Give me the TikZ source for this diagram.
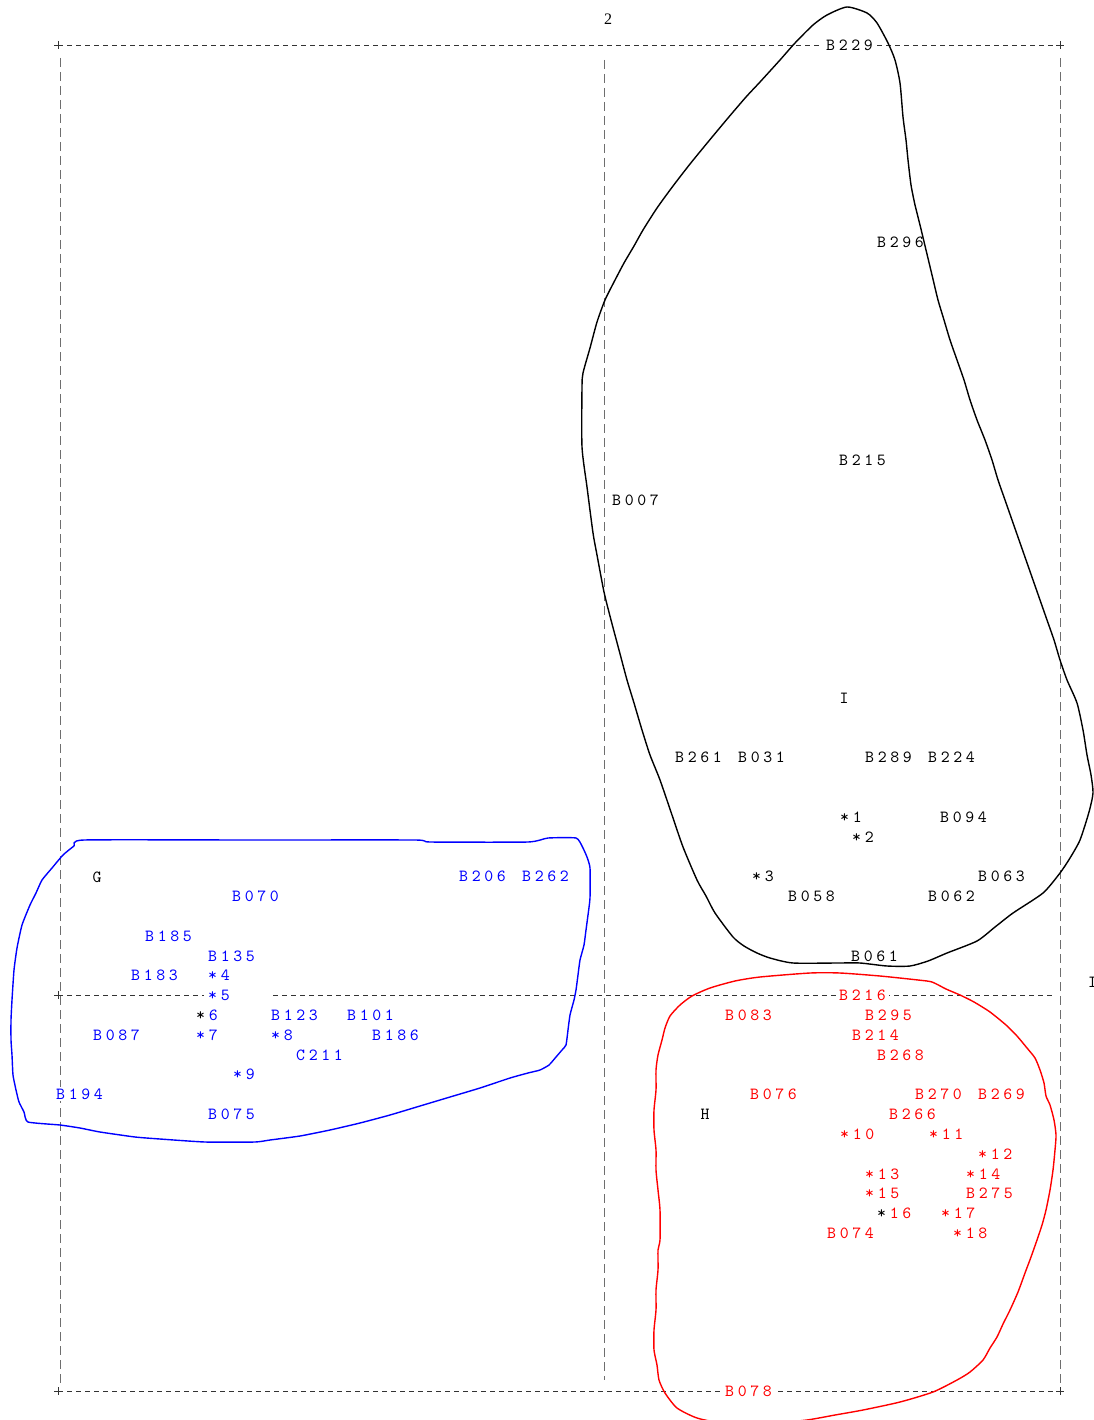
\documentclass[tikz,border=0pt]{standalone}
\usepackage{fontspec}
\newfontfamily\numfam{Liberation Serif}
\newfontfamily\lmmono{lmmono10-regular.otf}[LetterSpace=21.5]
\newcommand\lblfam{\lmmono\fontsize{17}{17}\selectfont}
\newcommand\blk[1]{\textcolor{black}{#1}\kern0.215em}
\definecolor{pblue}{RGB}{0,0,255}
\definecolor{pred}{RGB}{255,0,0}
\definecolor{dashgray}{RGB}{110,110,110}
\tikzset{
  lbl/.style={font=\lblfam, inner sep=0pt, anchor=west},
  onlbl/.style={lbl, fill=white, inner xsep=3pt, inner ysep=1pt},
  hdash/.style={draw=black!80, line width=0.7pt, dash pattern=on 5pt off 4pt},
  vdash/.style={draw=dashgray, line width=0.8pt, dash pattern=on 9pt off 5pt},
  tick/.style={draw=black!80, line width=0.7pt},
  outline/.style={line width=1.4pt, line join=round},
  bl/.style={lbl, text=pblue},
  rd/.style={lbl, text=pred},
  bk/.style={lbl, text=black}
}
\begin{document}
\begin{tikzpicture}[x=1pt,y=-1pt]
\useasboundingbox (0,0) rectangle (1093,1420);
% grid
\draw[vdash] (60,58) -- (60,1385);
\draw[vdash] (604,60) -- (604,1380);
\draw[vdash] (1060,58) -- (1060,1385);
\draw[hdash] (58,45) -- (1060,45);
\draw[hdash] (58,995) -- (204,995);
\draw[hdash] (273,995) -- (1052,995);
\draw[hdash] (58,1391) -- (1060,1391);
\foreach \p in {(58,45),(1060,45),(58,995),(58,1391),(1060,1391)}
  \draw[tick] \p ++(-4,0) -- ++(8,0) \p ++(0,-4) -- ++(0,8);

% black outline
\draw[outline, black] plot[smooth cycle, tension=0.4] coordinates {
(847,7) (867,13) (877,23) (888,43) (895,60) (900,83) (903,117)
(906,140) (908,160) (911,185) (915,205) (920,225) (926,250) (932,275)
(938,300) (944,320) (950,340) (957,360) (964,380) (970,400) (977,420)
(985,440) (992,460) (998,480) (1005,500) (1012,520) (1019,540) (1026,560)
(1033,580) (1040,600) (1047,620) (1054,640) (1060,660) (1067,680)
(1077,703) (1083,730) (1087,755) (1091,775) (1093,793) (1089,812)
(1080,840) (1070,858) (1060,873) (1043,893) (1013,913) (995,927)
(977,941) (947,953) (928,961) (910,966) (887,966) (860,963) (837,963)
(793,963) (770,958) (757,953) (744,946) (733,937) (715,913) (706,896)
(697,880) (683,847) (672,815) (660,780) (650,755) (642,730) (634,703)
(627,680) (619,650) (611,620) (604,592) (597,555) (593,533) (587,487)
(582,447) (582,387) (583,373) (590,348) (597,322) (605,300) (614,282)
(624,263) (634,246) (643,230) (657,208) (673,186) (690,164) (708,142)
(728,118) (746,97) (760,82) (780,60) (795,43) (813,25) (827,15)};

% blue outline
\draw[outline, pblue] plot[smooth cycle, tension=0.3] coordinates {
(84,840) (250,840) (415,840) (430,842) (528,842) (548,838) (576,838)
(582,846) (587,857) (590,868) (590,898) (588,915) (586,930) (584,945)
(580,960) (578,975) (576,990) (574,1000) (570,1015) (568,1030) (566,1045)
(562,1050) (556,1057) (549,1065) (540,1070) (528,1073) (510,1078)
(480,1088) (450,1097) (420,1106) (390,1115) (360,1123) (330,1130)
(300,1136) (270,1140) (255,1142) (205,1142) (160,1139) (135,1137)
(100,1132) (80,1128) (60,1125) (28,1122) (24,1112) (19,1102) (16,1090)
(13,1075) (12,1055) (11,1040) (11,1020) (12,1000) (14,970) (17,948)
(22,925) (30,905) (36,893) (42,880) (52,868) (63,855) (74,846)};

% red outline
\draw[outline, pred] plot[smooth cycle, tension=0.4] coordinates {
(810,973) (760,977) (735,981) (710,988) (692,996) (680,1005) (670,1016)
(665,1028) (662,1040) (658,1055) (656,1070) (656,1090) (654,1110)
(654,1130) (656,1150) (656,1170) (658,1190) (660,1210) (660,1240)
(658,1250) (658,1270) (656,1290) (656,1310) (654,1330) (654,1350)
(657,1365) (659,1380) (665,1393) (677,1408) (697,1418) (720,1422)
(780,1422) (807,1420) (835,1415) (863,1410) (900,1402) (933,1392)
(957,1380) (970,1372) (983,1360) (990,1348) (997,1337) (1003,1324)
(1010,1310) (1018,1292) (1025,1273) (1031,1257) (1037,1240) (1042,1225)
(1046,1210) (1050,1190) (1053,1170) (1055,1150) (1056,1135) (1054,1120)
(1050,1105) (1046,1096) (1044,1083) (1040,1070) (1035,1058) (1027,1048)
(1017,1036) (1006,1025) (990,1012) (974,1002) (960,995) (946,989)
(932,982) (918,980) (880,976) (840,973)};

% title
\node[font=\numfam\fontsize{16}{16}\selectfont, inner sep=0pt] (n2) at (608,19) {2};

% black labels
\node[onlbl] (B229) at (823,45) {B229};
\node[bk] (B296) at (877,242) {B296};
\node[bk] (B215) at (839,460) {B215};
\node[bk] (B007) at (612,500) {B007};
\node[bk, anchor=center] (I) at (844,698) {I};
\node[bk] (B261) at (675,757) {B261};
\node[bk] (B031) at (738,757) {B031};
\node[bk] (B289) at (865,757) {B289};
\node[bk] (B224) at (928,757) {B224};
\node[bk] (s1) at (840,817) {*1};
\node[bk] (B094) at (940,817) {B094};
\node[bk] (s2) at (852,837) {*2};
\node[bk] (s3) at (752,876) {*3};
\node[bk] (B063) at (978,876) {B063};
\node[bk] (B058) at (788,896) {B058};
\node[bk] (B062) at (928,896) {B062};
\node[bk] (B061) at (851,956) {B061};
\node[bk] (edge) at (1088,982) {I};

% blue labels
\node[bk, anchor=center] (G) at (97,877) {G};
\node[bl] (B206) at (459,876) {B206};
\node[bl] (B262) at (522,876) {B262};
\node[bl] (B070) at (232,896) {B070};
\node[bl] (B185) at (145,936) {B185};
\node[bl] (B135) at (208,956) {B135};
\node[bl] (B183) at (131,975) {B183};
\node[bl] (s4) at (208,975) {*4};
\node[bl] (s5) at (208,995) {*5};
\node[bl] (s6) at (196,1015) {\blk{*}6};
\node[bl] (B123) at (271,1015) {B123};
\node[bl] (B101) at (347,1015) {B101};
\node[bl] (B087) at (93,1035) {B087};
\node[bl] (s7) at (196,1035) {*7};
\node[bl] (s8) at (271,1035) {*8};
\node[bl] (B186) at (372,1035) {B186};
\node[bl] (C211) at (296,1055) {C211};
\node[bl] (s9) at (233,1074) {*9};
\node[bl, fill=white, inner xsep=1pt, inner ysep=2pt] (B194) at (55,1094) {B194};
\node[bl] (B075) at (208,1114) {B075};

% red labels
\node[onlbl, text=pred] (B216) at (836,995) {B216};
\node[rd] (B083) at (725,1015) {B083};
\node[rd] (B295) at (865,1015) {B295};
\node[rd] (B214) at (852,1035) {B214};
\node[rd] (B268) at (877,1055) {B268};
\node[rd] (B076) at (750,1094) {B076};
\node[rd] (B270) at (915,1094) {B270};
\node[rd] (B269) at (978,1094) {B269};
\node[bk, anchor=center] (H) at (705,1114) {H};
\node[rd] (B266) at (889,1114) {B266};
\node[rd] (s10) at (840,1134) {*10};
\node[rd] (s11) at (929,1134) {*11};
\node[rd] (s12) at (978,1154) {*12};
\node[rd] (s13) at (865,1174) {*13};
\node[rd] (s14) at (966,1174) {*14};
\node[rd] (s15) at (865,1193) {*15};
\node[rd] (B275) at (966,1193) {B275};
\node[rd] (s16) at (877,1213) {\blk{*}16};
\node[rd] (s17) at (941,1213) {*17};
\node[rd] (B074) at (827,1233) {B074};
\node[rd] (s18) at (953,1233) {*18};
\node[onlbl, text=pred] (B078) at (722,1391) {B078};
\end{tikzpicture}
\end{document}
